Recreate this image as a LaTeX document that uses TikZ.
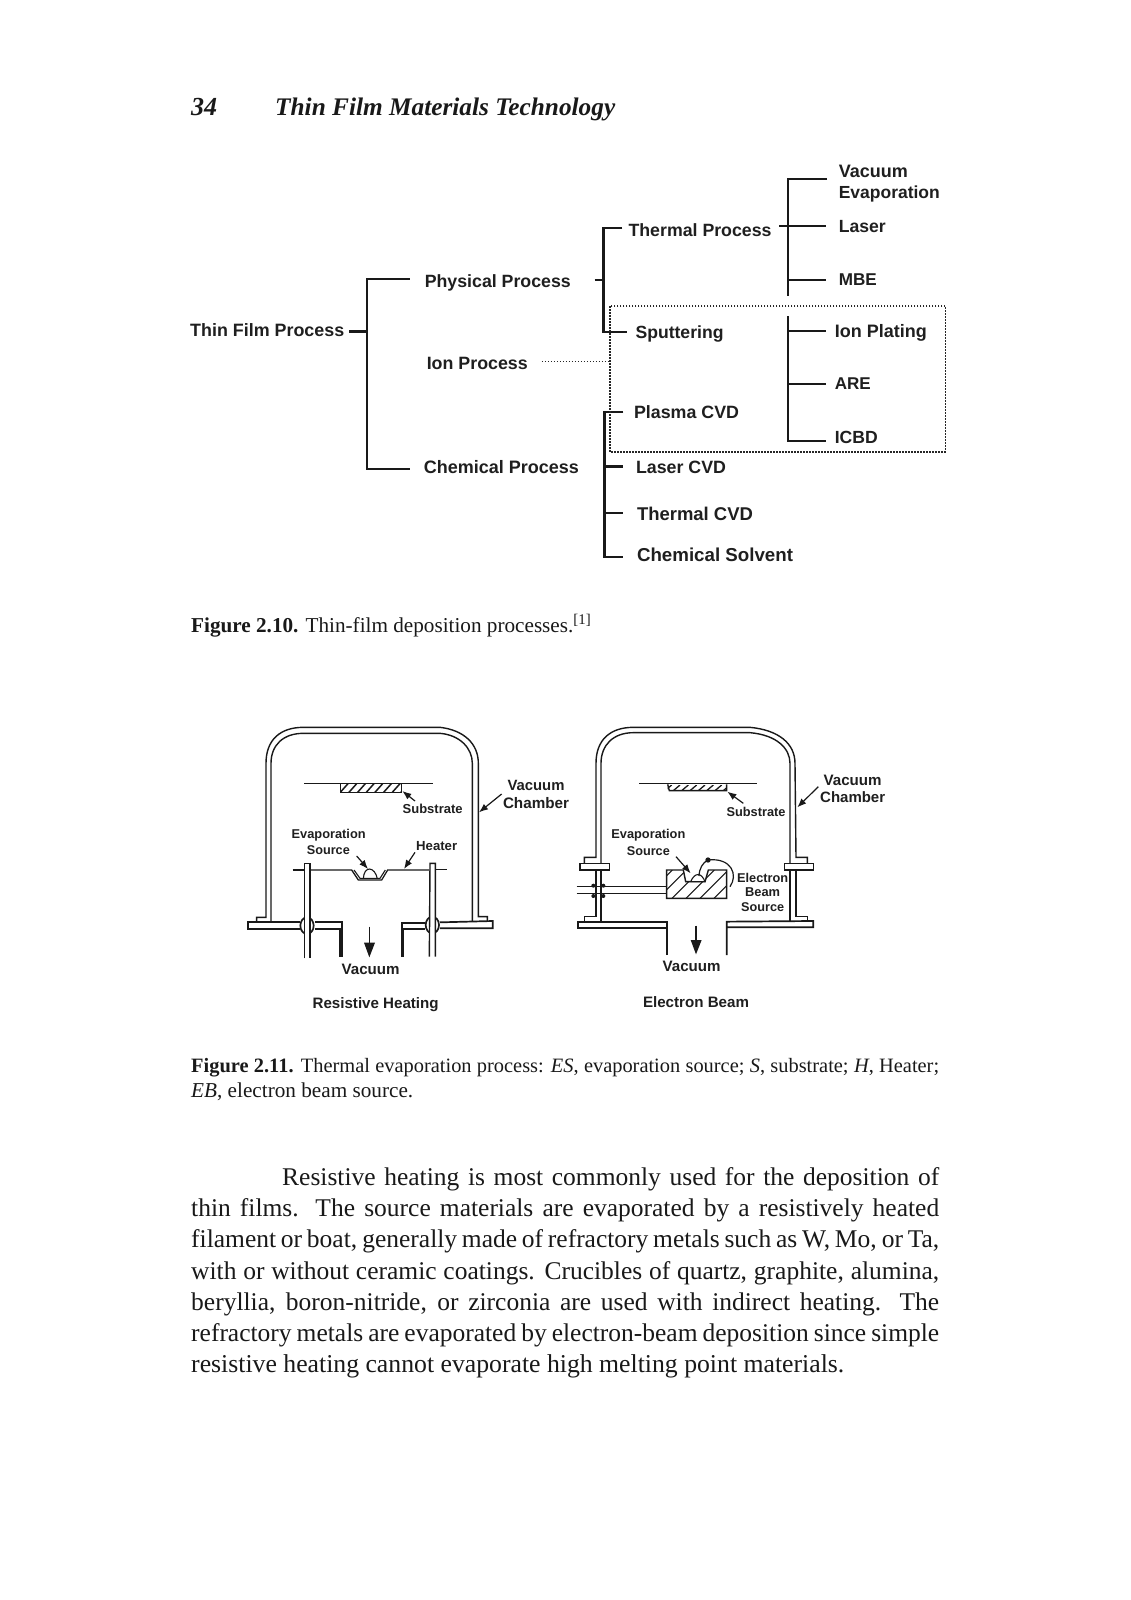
\documentclass[tikz,border=0pt]{standalone}
\usepackage{graphicx}
\usepackage{fontspec}
\setmainfont{Liberation Serif}
\newfontfamily\labsans{Liberation Sans}
\usetikzlibrary{arrows.meta}
\newcommand{\fitw}[2]{\resizebox{#1pt}{!}{#2}}
\newcommand{\bodyline}[1]{\makebox[748pt][s]{\fontsize{25.5}{30}\selectfont #1}}
\newcommand{\bodyind}[1]{\makebox[657pt][s]{\fontsize{25.5}{30}\selectfont #1}}
\tikzset{
  lab/.style={inner sep=0pt,font=\labsans\bfseries\fontsize{18}{20}\selectfont,text=black!88},
  tx/.style={inner sep=0pt,anchor=base west,text=black!90},
  tree/.style={line width=2.1pt,black!90},
  twig/.style={line width=2.6pt,black!90},
  dots/.style={line width=1.6pt,black!85,dash pattern=on 1.5pt off 1.5pt},
  wall/.style={line width=1.4pt,black!90},
  thin line/.style={line width=1.1pt,black!90},
  point/.style={line width=1.2pt,black!90,-{Latex[length=9pt,width=7pt]}},
  pump/.style={fill=black!90,draw=none}
}
\begin{document}
\begin{tikzpicture}[x=1pt,y=-1pt]
\useasboundingbox[fill=white] (0,0) rectangle (1131,1600);
% page text
\node[tx] (pg) at (191,116) {\fitw{26}{\bfseries\itshape 34}};
\node[tx] (title) at (275,116) {\fitw{340}{\bfseries\itshape\fontsize{25}{30}\selectfont Thin Film Materials Technology}};
\node[tx] (cap1) at (191,632) {\fitw{400}{\fontsize{21}{25}\selectfont\textbf{Figure 2.10.} Thin-film deposition processes.\textsuperscript{[1]}}};
\node[tx] (cap2a) at (191,1072) {\makebox[748pt][s]{\fontsize{20.4}{25}\selectfont\textbf{Figure 2.11.} Thermal evaporation process: \textit{ES}, evaporation source; \textit{S}, substrate; \textit{H}, Heater;}};
\node[tx] (cap2b) at (191,1097) {\fitw{222}{\fontsize{21}{25}\selectfont\textit{EB}, electron beam source.}};
\node[tx] (b1) at (282,1185) {\bodyind{Resistive heating is most commonly used for the deposition of}};
\node[tx] (b2) at (191,1216) {\bodyline{thin films. The source materials are evaporated by a resistively heated}};
\node[tx] (b3) at (191,1247) {\bodyline{filament or boat, generally made of refractory metals such as W, Mo, or Ta,}};
\node[tx] (b4) at (191,1279) {\bodyline{with or without ceramic coatings. Crucibles of quartz, graphite, alumina,}};
\node[tx] (b5) at (191,1310) {\bodyline{beryllia, boron-nitride, or zirconia are used with indirect heating. The}};
\node[tx] (b6) at (191,1341) {\bodyline{refractory metals are evaporated by electron-beam deposition since simple}};
\node[tx] (b7) at (191,1372) {\fitw{653}{\fontsize{25.5}{30}\selectfont resistive heating cannot evaporate high melting point materials.}};
% process tree
\begin{scope}[shift={(190,0)},xscale=0.994,shift={(-190,0)}]
\node[lab,anchor=west] (thin) at (190,330.5) {\fitw{154}{Thin Film Process}};
\node[lab,anchor=west] (phys) at (426,282.5) {\fitw{146}{Physical Process}};
\node[lab,anchor=west] (ion) at (428,363) {\fitw{101}{Ion Process}};
\node[lab,anchor=west] (chem) at (425,467.5) {\fitw{155}{Chemical Process}};
\node[lab,anchor=west] (therm) at (631,230) {\fitw{143}{Thermal Process}};
\node[lab,anchor=west] (sput) at (638,334) {\fitw{88}{Sputtering}};
\node[lab,anchor=west] (plasma) at (636.5,412) {\fitw{105}{Plasma CVD}};
\node[lab,anchor=west] (lcvd) at (638.5,467.5) {\fitw{90}{Laser CVD}};
\node[lab,anchor=west] (tcvd) at (639.5,513.5) {\fitw{116}{Thermal CVD}};
\node[lab,anchor=west] (solv) at (639.5,555) {\fitw{156}{Chemical Solvent}};
\node[lab,anchor=west] (vac) at (842.5,171) {\fitw{69}{Vacuum}};
\node[lab,anchor=west] (evap) at (842.5,193.5) {\fitw{101}{Evaporation}};
\node[lab,anchor=west] (laser) at (842.5,227) {\fitw{47}{Laser}};
\node[lab,anchor=west] (mbe) at (842.5,280) {\fitw{38}{MBE}};
\node[lab,anchor=west] (ionp) at (838.5,332.5) {\fitw{92}{Ion Plating}};
\node[lab,anchor=west] (are) at (838.5,383.5) {\fitw{36}{ARE}};
\node[lab,anchor=west] (icbd) at (838.5,437.5) {\fitw{43}{ICBD}};
% connector ends
\coordinate (a0) at (350,331.5); \coordinate (a1) at (368,331.5);
\coordinate (a2) at (411,279); \coordinate (a3) at (411,469);
\coordinate (c0) at (597,280); \coordinate (c1) at (606,280);
\coordinate (c2) at (625,228.3); \coordinate (c3) at (630,332);
\coordinate (d0) at (783,226); \coordinate (d1) at (791.5,226);
\coordinate (d2) at (831,179.3); \coordinate (d3) at (830,226); \coordinate (d4) at (830,280); \coordinate (d5) at (791.5,296);
\coordinate (e0) at (791.5,316); \coordinate (e1) at (830,331); \coordinate (e2) at (830,384); \coordinate (e3) at (830,441);
\coordinate (f0) at (607,557); \coordinate (f1) at (626,412); \coordinate (f2) at (626,466.7); \coordinate (f3) at (626,513); \coordinate (f4) at (626,557);
\coordinate (g0) at (544,361.5); \coordinate (g1) at (612.5,361.5);
\draw[tree,line width=1.6pt] (a2) -| (a1) |- (a3);
\draw[twig] (a0) -- (a1);
\draw[tree] (c2) -| (c1) |- (c3);
\draw[twig] (c0) -- (c1);
\draw[tree] (d2) -| (d1) -- (d5);
\draw[thin line] (d0) -- (d3);
\draw[twig] (d1 |- d4) -- (d4);
\draw[tree] (e0) |- (e3);
\draw[twig] (e0 |- e1) -- (e1);
\draw[tree,line width=1.6pt] (e0 |- e2) -- (e2);
\draw[tree] (f1) -| (f0) -- (f4);
\draw[twig] (f0 |- f2) -- (f2);
\draw[twig] (f0 |- f3) -- (f3);
\draw[dots] (612.5,306) rectangle (950,451.7);
\draw[dots] (g0) -- (g1);
\end{scope}
% left chamber
\begin{scope}[shift={(240,720)},scale=0.33333]
\draw[wall] (50,605) -- (50,592) -- (78,592) -- (78,130) .. controls (78,60) and (120,22) .. (190,22) -- (600,22) .. controls (670,30) and (715,70) .. (715,130) -- (715,590) -- (742,590) -- (742,603);
\draw[wall] (93,605) -- (93,130) .. controls (93,75) and (130,40) .. (190,40) -- (600,40) .. controls (660,45) and (697,85) .. (697,130) -- (697,605);
\draw[wall,line width=1.7pt] (180,607) -- (25,607) -- (25,627) -- (180,627);
\draw[wall,line width=1.7pt] (225,607) -- (305,607) -- (305,710);
\draw[wall] (225,627) -- (300,627) -- (300,710);
\draw[wall,line width=1.7pt] (485,710) -- (485,610) -- (555,610);
\draw[wall] (490,710) -- (490,627) -- (555,627);
\draw[wall,line width=1.7pt] (600,607) -- (758,603) -- (758,625) -- (600,625);
\draw[wall,line width=1.7pt,fill=white] (201,617) ellipse (20 and 25);
\draw[wall,line width=1.7pt,fill=white] (577,615) ellipse (20 and 25);
\draw[wall,fill=white] (193,715) -- (193,430) -- (210,430) -- (210,715);
\draw[wall,fill=white] (568,710) -- (570,430) -- (586,430) -- (586,710);
\draw[thin line,line width=1.3pt] (158,450) -- (193,450);
\draw[thin line,line width=1.3pt] (210,450) -- (335,450) -- (355,480) -- (425,480) -- (443,450) -- (568,450);
\draw[thin line,line width=1.3pt] (586,448) -- (620,448);
\draw[thin line] (342,450) -- (360,475) -- (420,475) -- (436,450);
\draw[thin line] (370,476) .. controls (372,435) and (405,440) .. (412,476);
\draw[thin line] (192,191) -- (580,191);
\begin{scope}
\clip (302,191) rectangle (485,218);
\foreach \h in {300,326,...,500} \draw[line width=1.5pt,black!90] (\h,218) -- (\h+24,191);
\end{scope}
\draw[wall] (302,191) -- (302,218) -- (485,218) -- (485,191);
\coordinate (ls0) at (525,243); \coordinate (ls1) at (487,213);
\coordinate (le0) at (350,408); \coordinate (le1) at (384,447);
\coordinate (lh0) at (525,397); \coordinate (lh1) at (492,447);
\coordinate (lc0) at (785,222); \coordinate (lc1) at (717,277);
\draw[point] (ls0) -- (ls1);
\draw[point] (le0) -- (le1);
\draw[point] (lh0) -- (lh1);
\draw[point] (lc0) -- (lc1);
\coordinate (lv0) at (388,620); \coordinate (lv1) at (388,672);
\draw[wall] (lv0) -- (lv1);
\fill[pump] (372,668) -- (405,668) -- (388,712) -- cycle;
\node[lab] (lsub) at (578,267) {\fitw{60}{Substrate}};
\node[lab] (lev) at (266,347) {\fitw{74}{Evaporation}};
\node[lab] (lsr) at (265,390) {\fitw{43}{Source}};
\node[lab] (lhe) at (590,377) {\fitw{41}{Heater}};
\node[lab] (lvc) at (888,197) {\fitw{57}{Vacuum}};
\node[lab] (lch) at (888,248) {\fitw{66}{Chamber}};
\node[lab] (lva) at (392,747) {\fitw{58}{Vacuum}};
\node[lab] (lrh) at (407,854) {\fitw{126}{Resistive Heating}};
\end{scope}
% right chamber
\begin{scope}[shift={(570,720)},scale=0.33333]
\draw[wall] (43,430) -- (43,412) -- (78,412) -- (78,130) .. controls (78,60) and (120,22) .. (190,22) -- (540,22) .. controls (625,30) and (675,70) .. (675,130) -- (678,412) -- (712,412) -- (712,430);
\draw[wall] (93,430) -- (93,130) .. controls (93,75) and (130,38) .. (190,38) -- (540,38) .. controls (620,45) and (660,85) .. (660,130) -- (660,430);
\draw[wall] (30,430) rectangle (118,450);
\draw[wall] (643,430) rectangle (730,450);
\draw[wall] (43,605) -- (43,590) -- (78,590) -- (78,450);
\draw[wall] (93,450) -- (93,605);
\draw[wall] (660,450) -- (660,603);
\draw[wall] (678,450) -- (678,590) -- (712,590) -- (712,603);
\draw[wall,line width=1.7pt] (290,705) -- (290,605) -- (25,605) -- (25,625) -- (290,625);
\draw[wall,line width=1.7pt] (470,705) -- (470,605) -- (730,603) -- (730,622) -- (472,622);
\draw[wall] (20,500) -- (290,500);
\draw[wall] (20,520) -- (290,520);
\foreach \kx/\ky in {70/497,100/497,70/528,100/528} \fill[black!90] (\kx,\ky) circle (6);
\begin{scope}
\clip (290,450) -- (340,450) -- (347,485) -- (405,485) -- (415,450) -- (470,450) -- (470,535) -- (290,535) -- cycle;
\foreach \h in {180,222,...,500} \draw[line width=1.1pt,black!90] (\h,535) -- (\h+85,450);
\end{scope}
\draw[wall] (290,450) -- (340,450) -- (347,485) -- (405,485) -- (415,450) -- (470,450) -- (470,535) -- (290,535) -- cycle;
\draw[thin line,fill=white] (347,485) -- (405,485) .. controls (395,458) and (375,455) .. (362,485);
\coordinate (rb0) at (480,500); \coordinate (rb1) at (414,420); \coordinate (rb2) at (387,468);
\draw[line width=1.2pt,black!90] (rb0) .. controls (505,465) and (485,412) .. (rb1);
\draw[line width=1.2pt,black!90] (rb1) .. controls (398,428) and (388,445) .. (rb2);
\fill[black!90] (rb1) circle (8);
\draw[thin line] (207,191) -- (560,191);
\begin{scope}
\clip (293,195) rectangle (470,212);
\foreach \h in {285,310,...,480} \draw[line width=1.3pt,black!90] (\h,212) -- (\h+20,195);
\end{scope}
\draw[wall] (293,193) -- (298,212) -- (470,212) -- (470,193);
\coordinate (rs0) at (520,250); \coordinate (rs1) at (472,215);
\coordinate (re0) at (318,410); \coordinate (re1) at (362,460);
\coordinate (rc0) at (745,200); \coordinate (rc1) at (682,262);
\draw[point] (rs0) -- (rs1);
\draw[point] (re0) -- (re1);
\draw[point] (rc0) -- (rc1);
\coordinate (rv0) at (378,617); \coordinate (rv1) at (378,665);
\draw[wall] (rv0) -- (rv1);
\fill[pump] (362,660) -- (395,660) -- (378,703) -- cycle;
\node[lab] (rvc) at (848,180) {\fitw{58}{Vacuum}};
\node[lab] (rch) at (848,232) {\fitw{65}{Chamber}};
\node[lab] (rsub) at (558,277) {\fitw{59}{Substrate}};
\node[lab] (rev) at (235,347) {\fitw{74}{Evaporation}};
\node[lab] (rsr) at (235,392) {\fitw{43}{Source}};
\node[lab] (rel) at (578,473) {\fitw{51}{Electron}};
\node[lab] (rbe) at (578,516) {\fitw{35}{Beam}};
\node[lab] (rso) at (578,560) {\fitw{43}{Source}};
\node[lab] (rva) at (365,740) {\fitw{58}{Vacuum}};
\node[lab] (reb) at (378,846) {\fitw{106}{Electron Beam}};
\end{scope}
\end{tikzpicture}
\end{document}
